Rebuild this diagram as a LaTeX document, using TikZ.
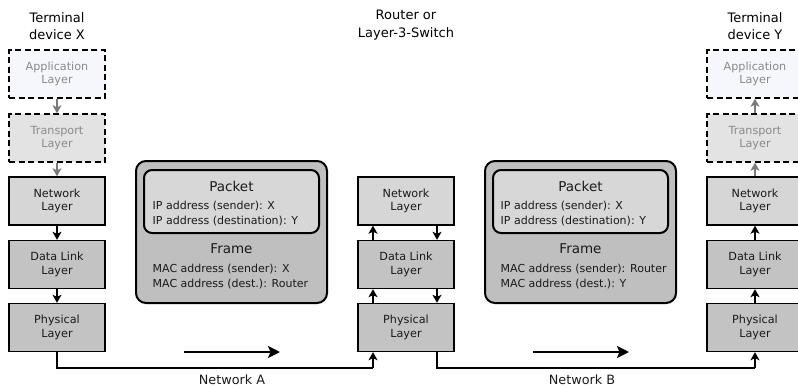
\documentclass[tikz,border=0pt]{standalone}
\usepackage{fontspec}
\setmainfont{DejaVu Sans}
\usetikzlibrary{arrows.meta}
\definecolor{appfill}{HTML}{F6F6FD}
\definecolor{trfill}{HTML}{E3E3E3}
\definecolor{netfill}{HTML}{D6D6D6}
\definecolor{dlfill}{HTML}{C3C3C3}
\definecolor{outerfill}{HTML}{BFBFBF}
\definecolor{innerfill}{HTML}{D7D7D7}
\definecolor{txt}{HTML}{1A1A1A}
\definecolor{greytxt}{HTML}{8A8A8A}
\definecolor{greyarr}{HTML}{7A7A7A}
\tikzset{
  layerbox/.style={draw=black, line width=1.4pt, minimum width=96pt, minimum height=48pt,
    inner sep=0pt, align=center, font=\fontsize{11.2}{13.6}\selectfont, text=txt},
  dashbox/.style={layerbox, dash pattern=on 6pt off 3.5pt, line width=1.4pt, text=greytxt},
  conn/.style={line width=1.2pt, -{Stealth[length=8pt,width=9pt,inset=2pt]}},
  gconn/.style={conn, draw=greyarr, -{Stealth[length=8pt,width=9pt,inset=2pt,fill=greyarr]}},
  wire/.style={line width=1.2pt},
  title/.style={align=center, font=\fontsize{13}{17.5}\selectfont, text=black},
  outerbox/.style={draw=black, line width=2pt, rounded corners=10pt, fill=outerfill},
  innerbox/.style={draw=black, line width=2pt, rounded corners=8pt, fill=innerfill},
  head/.style={font=\fontsize{13.5}{15}\selectfont, text=txt},
  info/.style={font=\fontsize{11}{15.3}\selectfont, text=txt, align=left, anchor=west, inner sep=0pt},
  bigarrow/.style={line width=2.2pt, -{Stealth[length=12pt,width=12pt,inset=2.5pt]}},
  netlabel/.style={font=\fontsize{12.8}{14}\selectfont, text=txt, inner sep=0pt},
}
\begin{document}
\begin{tikzpicture}[x=1pt,y=-1pt]
\useasboundingbox (0,0) rectangle (798,388);

% titles
\node[title] (tx) at (57,26) {Terminal\\device X};
\node[title] (tr) at (406,25) {Router or\\Layer-3-Switch};
\node[title] (ty) at (755,26) {Terminal\\device Y};

% left column
\node[dashbox, fill=appfill] (xa) at (57,74) {Application\\Layer};
\node[dashbox, fill=trfill] (xt) at (57,138) {Transport\\Layer};
\node[layerbox, fill=netfill] (xn) at (57,201) {Network\\Layer};
\node[layerbox, fill=dlfill] (xd) at (57,264.5) {Data Link\\Layer};
\node[layerbox, fill=dlfill] (xp) at (57,327.5) {Physical\\Layer};

% router column
\node[layerbox, fill=netfill] (rn) at (406,201) {Network\\Layer};
\node[layerbox, fill=dlfill] (rd) at (406,264.5) {Data Link\\Layer};
\node[layerbox, fill=dlfill] (rp) at (406,327.5) {Physical\\Layer};

% right column
\node[dashbox, fill=appfill] (ya) at (755,74) {Application\\Layer};
\node[dashbox, fill=trfill] (yt) at (755,138) {Transport\\Layer};
\node[layerbox, fill=netfill] (yn) at (755,201) {Network\\Layer};
\node[layerbox, fill=dlfill] (yd) at (755,264.5) {Data Link\\Layer};
\node[layerbox, fill=dlfill] (yp) at (755,327.5) {Physical\\Layer};

% left arrows
\draw[gconn] (xa) -- (xt);
\draw[gconn] (xt) -- (xn);
\draw[conn] (xn) -- (xd);
\draw[conn] (xd) -- (xp);

% router arrows
\draw[conn] ([xshift=-33pt]rd.north) -- ([xshift=-33pt]rn.south);
\draw[conn] ([xshift=-33pt]rp.north) -- ([xshift=-33pt]rd.south);
\draw[conn] ([xshift=31pt]rn.south) -- ([xshift=31pt]rd.north);
\draw[conn] ([xshift=31pt]rd.south) -- ([xshift=31pt]rp.north);

% right arrows
\draw[conn] (yp) -- (yd);
\draw[conn] (yd) -- (yn);
\draw[gconn] (yn) -- (yt);
\draw[gconn] (yt) -- (ya);

% wires
\coordinate (wa) at (57,368);
\coordinate (wb) at (373,368);
\coordinate (wc) at (437,368);
\coordinate (wd) at (755,368);
\draw[wire] (xp.south) -- (wa) -- (wb);
\draw[conn] (wb) -- ([xshift=-33pt]rp.south);
\draw[wire] ([xshift=31pt]rp.south) -- (wc) -- (wd);
\draw[conn] (wd) -- (yp.south);

% packet boxes A
\node[outerbox, minimum width=191pt, minimum height=142pt, inner sep=0pt] (oa) at (231.5,232) {};
\node[innerbox, minimum width=175pt, minimum height=63pt, inner sep=0pt] (ia) at (231.5,201.5) {};
\node[head] (pa) at (231.5,186) {Packet};
\node[info] (ipa1) at (152.5,206) {IP address (sender): X};
\node[info] (ipa2) at (152.5,221.5) {IP address (destination): Y};
\node[head] (fa) at (231.5,249) {Frame};
\node[info] (maca1) at (152.5,269) {MAC address (sender): X};
\node[info] (maca2) at (152.5,284.5) {MAC address (dest.): Router};

% packet boxes B
\node[outerbox, minimum width=191pt, minimum height=142pt, inner sep=0pt] (ob) at (580.5,232) {};
\node[innerbox, minimum width=175pt, minimum height=63pt, inner sep=0pt] (ib) at (580.5,201.5) {};
\node[head] (pb) at (580.5,186) {Packet};
\node[info] (ipb1) at (500.5,206) {IP address (sender): X};
\node[info] (ipb2) at (500.5,221.5) {IP address (destination): Y};
\node[head] (fb) at (580.5,249) {Frame};
\node[info] (macb1) at (500.5,269) {MAC address (sender): Router};
\node[info] (macb2) at (500.5,284.5) {MAC address (dest.): Y};

% network arrows
\coordinate (na1) at (184,352);
\coordinate (na2) at (280,352);
\coordinate (nb1) at (533,352);
\coordinate (nb2) at (629,352);
\draw[bigarrow] (na1) -- (na2);
\draw[bigarrow] (nb1) -- (nb2);
\node[netlabel] (nla) at (232,380) {Network A};
\node[netlabel] (nlb) at (582,380) {Network B};
\end{tikzpicture}
\end{document}
